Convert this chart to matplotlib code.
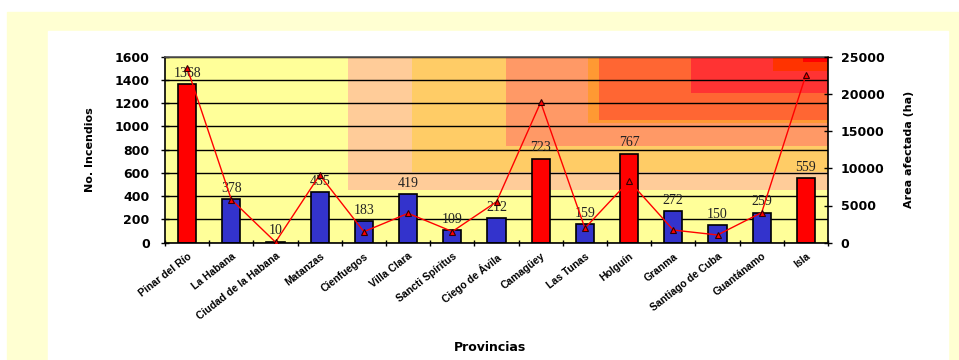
import matplotlib
matplotlib.use("Agg")
import matplotlib.pyplot as plt
from matplotlib.patches import Rectangle
import numpy as np

provincias = ["Pinar del Río", "La Habana", "Ciudad de la Habana", "Matanzas",
              "Cienfuegos", "Villa Clara", "Sancti Spíritus", "Ciego de Ávila",
              "Camagüey", "Las Tunas", "Holguín", "Granma", "Santiago de Cuba",
              "Guantánamo", "Isla"]
incendios = [1368, 378, 10, 435, 183, 419, 109, 212, 723, 159, 767, 272, 150, 259, 559]
area_ha = [23500, 5800, 80, 9100, 1480, 3950, 1500, 5500, 18870, 1950, 8300, 1700, 1040, 4050, 22550]
bar_colors = ["#FF0000", "#3333CC", "#3333CC", "#3333CC", "#3333CC", "#3333CC", "#3333CC",
              "#3333CC", "#FF0000", "#3333CC", "#FF0000", "#3333CC", "#3333CC", "#3333CC", "#FF0000"]
left_ticks = [0, 200, 400, 600, 800, 1000, 1200, 1400, 1600]
right_ticks = [0, 5000, 10000, 15000, 20000, 25000]

# background blocks (axes fraction: x start, y start), anchored at top-right
bg_blocks = [(0.2765, 0.283, "#FFCC99"), (0.373, 0.382, "#FFCC66"),
             (0.515, 0.522, "#FF9966"), (0.638, 0.646, "#FF9933"),
             (0.654, 0.660, "#FF6633"), (0.793, 0.803, "#FF3333"),
             (0.917, 0.923, "#FF3300"), (0.962, 0.973, "#FF0000")]

W, H = 959, 360
fig = plt.figure(figsize=(W / 100, H / 100), dpi=100)
fig.patch.set_facecolor("white")
# yellow frame
fig.patches.append(Rectangle((7 / W, 0), (W - 7) / W, (H - 12) / H,
                             transform=fig.transFigure, color="#FFFFD2", zorder=-10))
fig.patches.append(Rectangle((48 / W, 0), (948 - 48) / W, (H - 31) / H,
                             transform=fig.transFigure, color="white", zorder=-9))

ax = fig.add_axes([165 / W, (H - 242.7) / H, (828 - 165) / W, (242.7 - 56.7) / H])
ax.set_facecolor("#FFFF99")
for x0, y0, c in bg_blocks:
    ax.add_patch(Rectangle((x0, y0), 1 - x0, 1 - y0, transform=ax.transAxes,
                           color=c, zorder=0.1, lw=0))

x = np.arange(len(provincias))
ax.bar(x, incendios, width=0.41, color=bar_colors, edgecolor="black", linewidth=1.2, zorder=2)
for xi, v in zip(x, incendios):
    ax.annotate(str(v), (xi, v), xytext=(0, 3), textcoords="offset points",
                ha="center", va="bottom", fontsize=10, family="Liberation Serif",
                color="#222222", zorder=3)

ax.set_xlim(-0.5, len(provincias) - 0.5)
ax.set_ylim(0, 1600)
ax.set_yticks(left_ticks)
ax.set_yticklabels([str(t) for t in left_ticks], fontsize=9, fontweight="bold")
ax.yaxis.grid(True, color="black", linewidth=1.0)
ax.set_axisbelow(True)
for gl in ax.get_ygridlines():
    gl.set_zorder(0.5)
ax.set_xticks(x)
ax.set_xticklabels(provincias, rotation=38, ha="right", rotation_mode="anchor",
                   fontsize=7.5, fontweight="bold", family="Liberation Sans")
ax.set_xticks(np.arange(-0.5, len(provincias), 1.0), minor=True)
ax.tick_params(axis="x", which="major", length=0, pad=6)
ax.tick_params(axis="x", which="minor", length=4, direction="inout", width=1)
ax.tick_params(axis="y", length=6, direction="inout", width=1, pad=8)
ax.set_ylabel("No. Incendios", fontsize=8, fontweight="bold", labelpad=14)
ax.set_xlabel("Provincias", fontsize=9, fontweight="bold", labelpad=2)
for s in ax.spines.values():
    s.set_color("black")
    s.set_linewidth(1.2)
ax.spines["top"].set_color("#555555")

ax2 = ax.twinx()
ax2.plot(x, area_ha, color="#FF0000", linewidth=1.0, marker="^", markersize=5,
         markerfacecolor="#FF0000", markeredgecolor="#330000", markeredgewidth=0.8)
ax2.set_ylim(0, 25000)
ax2.set_yticks(right_ticks)
ax2.set_yticklabels([str(t) for t in right_ticks], fontsize=9, fontweight="bold")
ax2.tick_params(axis="y", length=6, direction="inout", width=1, pad=6)
ax2.set_ylabel("Area afectada (ha)", fontsize=8, fontweight="bold", labelpad=14)
for s in ax2.spines.values():
    s.set_visible(False)

ax.xaxis.set_label_coords(0.49, -0.53)

fig.savefig("out.png", dpi=100)
